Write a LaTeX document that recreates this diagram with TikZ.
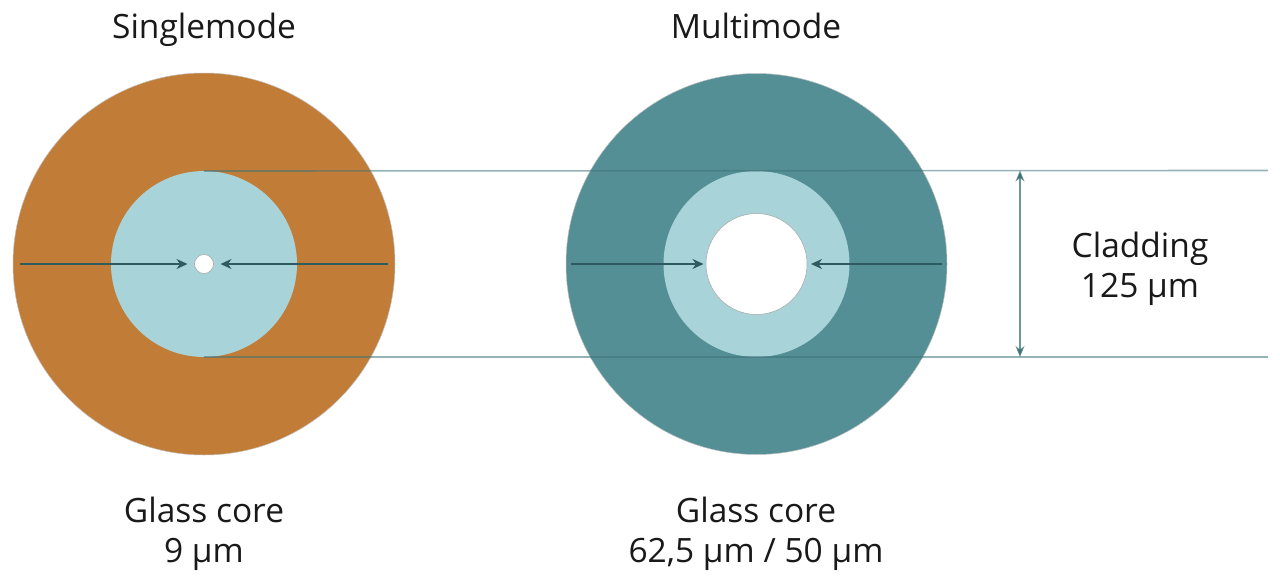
\documentclass[tikz,border=0pt]{standalone}
\usepackage{fontspec}
\setmainfont{Open Sans}
\usetikzlibrary{arrows.meta}
\definecolor{orangefill}{HTML}{C17D38}
\definecolor{tealfill}{HTML}{548F95}
\definecolor{lightblue}{HTML}{A8D3D8}
\definecolor{darkteal}{HTML}{2E5B5F}
\definecolor{guide}{HTML}{3F7378}
\tikzset{
  disc/.style={circle, inner sep=0pt, outer sep=0pt, draw=black!25, line width=0.5pt},
  label/.style={align=center, font=\fontsize{33.5}{40}\selectfont, text=black!90, inner sep=0pt},
  arr/.style={draw=darkteal, line width=1.3pt, -{Stealth[length=11pt,width=10pt,inset=3.5pt]}},
  guideline/.style={draw=guide, draw opacity=0.55, line width=1.6pt},
  dim/.style={draw=guide, draw opacity=0.75, line width=1.4pt, {Stealth[length=11pt,width=9pt,inset=3.5pt]}-{Stealth[length=11pt,width=9pt,inset=3.5pt]}}
}
\begin{document}
\begin{tikzpicture}[x=1pt,y=-1pt]
\useasboundingbox[fill=white] (0,0) rectangle (1280,581);
% Singlemode
\node[disc, fill=orangefill, minimum size=382pt] (outL) at (204,264) {};
\node[disc, fill=lightblue, draw=none, minimum size=186pt] (cladL) at (204,264) {};
\node[disc, fill=white, draw=black!35, minimum size=19pt] (coreL) at (204,264) {};
% Multimode
\node[disc, fill=tealfill, minimum size=381pt] (outR) at (756.5,264) {};
\node[disc, fill=lightblue, draw=none, minimum size=186pt] (cladR) at (756.5,264) {};
\node[disc, fill=white, draw=black!35, minimum size=101pt] (coreR) at (756.5,264) {};
% coordinates
\coordinate (aL1) at (20,264);
\coordinate (aL2) at (388,264);
\coordinate (aR1) at (571,264);
\coordinate (aR2) at (942,264);
\coordinate (gTop) at (1268,170.5);
\coordinate (gBot) at (1268,357);
\coordinate (dTop) at (1020,170.5);
\coordinate (dBot) at (1020,357);
% arrows
\draw[arr, shorten >=7pt] (aL1) -- (coreL.west);
\draw[arr, shorten >=7pt] (aL2) -- (coreL.east);
\draw[arr, shorten >=2.5pt] (aR1) -- (coreR.west);
\draw[arr, shorten >=4pt] (aR2) -- (coreR.east);
% guide lines
\draw[guideline] (cladL.north) -- (gTop);
\draw[guideline] (cladL.south) -- (gBot);
\draw[dim] (dTop) -- (dBot);
% labels
\node[label, anchor=base] (tL) at (204,38) {Singlemode};
\node[label, anchor=base] (tR) at (756,38) {Multimode};
\node[label, anchor=base] (bL1) at (204,522) {Glass core};
\node[label, anchor=base] (bL2) at (204,562) {9 µm};
\node[label, anchor=base] (bR1) at (756,522) {Glass core};
\node[label, anchor=base] (bR2) at (756,562) {62,5 µm / 50 µm};
\node[label, anchor=base] (c1) at (1140,257) {Cladding};
\node[label, anchor=base] (c2) at (1140,297) {125 µm};
\end{tikzpicture}
\end{document}
